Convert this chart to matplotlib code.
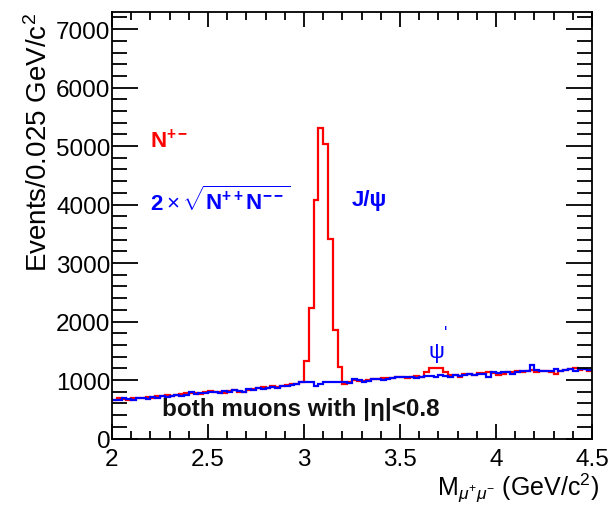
import numpy as np
import matplotlib
matplotlib.use('Agg')
import matplotlib.pyplot as plt
from matplotlib.ticker import MultipleLocator

plt.rcParams['font.family'] = ['Liberation Sans', 'DejaVu Sans']
plt.rcParams['mathtext.fontset'] = 'custom'
plt.rcParams['mathtext.rm'] = 'Liberation Sans'
plt.rcParams['mathtext.it'] = 'Liberation Sans:italic'
plt.rcParams['mathtext.bf'] = 'Liberation Sans:bold'

# bins of 0.025 GeV/c^2 from 2.0 to 4.5
x_lo, x_hi = 2.0, 4.5

# opposite-sign pairs N+-
n_pm = [
    650, 690, 670, 660, 700, 690, 700, 710, 700, 720,
    730, 740, 720, 750, 760, 770, 780, 770, 760, 800,
    810, 790, 800, 780, 820, 830, 800, 790, 830, 850,
    870, 880, 860, 890, 880, 900, 910, 930, 930, 970,
    1330, 2230, 4080, 5310, 5030, 3410, 1855, 1230, 930, 960,
    1000, 990, 980, 1000, 1020, 1010, 1040, 1030, 1030, 1060,
    1050, 1040, 1050, 1070, 1060, 1140, 1200, 1200, 1200, 1140,
    1080, 1090, 1060, 1100, 1110, 1090, 1120, 1120, 1140, 1120,
    1080, 1100, 1130, 1140, 1150, 1130, 1160, 1170, 1130, 1160,
    1150, 1130, 1100, 1160, 1170, 1190, 1200, 1170, 1190, 1160,
]

# like-sign estimate 2*sqrt(N++ N--)
n_ls = [
    650, 660, 690, 670, 665, 690, 700, 680, 710, 700,
    720, 710, 730, 740, 720, 745, 790, 760, 770, 780,
    790, 800, 780, 810, 800, 830, 820, 800, 840, 830,
    860, 850, 870, 880, 870, 890, 900, 910, 940, 960,
    960, 960, 900, 930, 965, 965, 965, 960, 965, 950,
    1010, 1000, 960, 985, 1010, 1020, 1000, 1020, 1040, 1050,
    1060, 1060, 1050, 1040, 1060, 1070, 1070, 1060, 1080, 1070,
    1050, 1080, 1070, 1090, 1100, 1090, 1110, 1100, 1060, 1130,
    1120, 1140, 1140, 1110, 1130, 1150, 1150, 1250, 1170, 1160,
    1160, 1150, 1180, 1160, 1170, 1180, 1160, 1190, 1180, 1170,
]

edges = np.linspace(x_lo, x_hi, len(n_pm) + 1)

fig = plt.figure(figsize=(6.11, 5.06), dpi=100)
ax = fig.add_axes([0.1833, 0.1314, 0.7856, 0.8426])

ax.stairs(n_pm, edges, baseline=None, color='#ff0000', linewidth=1.6)
ax.stairs(n_ls, edges, baseline=None, color='#0000ff', linewidth=1.6)

ax.set_xlim(x_lo, x_hi)
ax.set_ylim(0, 7290)

ax.xaxis.set_minor_locator(MultipleLocator(0.1))
ax.yaxis.set_major_locator(MultipleLocator(1000))
ax.yaxis.set_minor_locator(MultipleLocator(200))
ax.set_xticks([2, 2.5, 3, 3.5, 4, 4.5], ['2', '2.5', '3', '3.5', '4', '4.5'])
ax.tick_params(axis='both', which='both', direction='in', top=True, right=True,
               labelsize=17.5, width=1.3)
ax.tick_params(axis='y', which='major', length=19, pad=1)
ax.tick_params(axis='y', which='minor', length=11)
ax.tick_params(axis='x', which='major', length=11, pad=7)
ax.tick_params(axis='x', which='minor', length=6)
for s in ax.spines.values():
    s.set_linewidth(1.3)

ax.set_ylabel('Events/0.025 GeV/c$^2$', fontsize=20, loc='top', labelpad=2)
ax.set_xlabel(r'M$_{\mu^{+}\mu^{-}}$ (GeV/c$^2$)', fontsize=18, ha='right')
ax.xaxis.set_label_coords(1.015, -0.075)

ax.text(2.2, 5100, r'N$^{\mathbf{+-}}$', color='#ff0000', fontsize=16,
        fontweight='bold', va='center')
ax.text(2.2, 4080, r'$\mathbf{2}\times\sqrt{\mathbf{N^{++}N^{--}}}$', color='#0000ff',
        fontsize=16, va='center')
ax.text(3.25, 4080, 'J/ψ', color='#0000ff', fontsize=16,
        fontweight='bold', va='center')
ax.text(3.69, 1480, 'ψ', color='#0000ff', fontsize=16, ha='center', va='center')
ax.text(3.74, 1800, "'", color='#0000ff', fontsize=13, ha='center', va='center')
ax.text(2.26, 520, 'both muons with |η|<0.8', color='#111111', fontsize=17.5,
        fontweight='bold', va='center')

fig.savefig('out.png', dpi=100)
